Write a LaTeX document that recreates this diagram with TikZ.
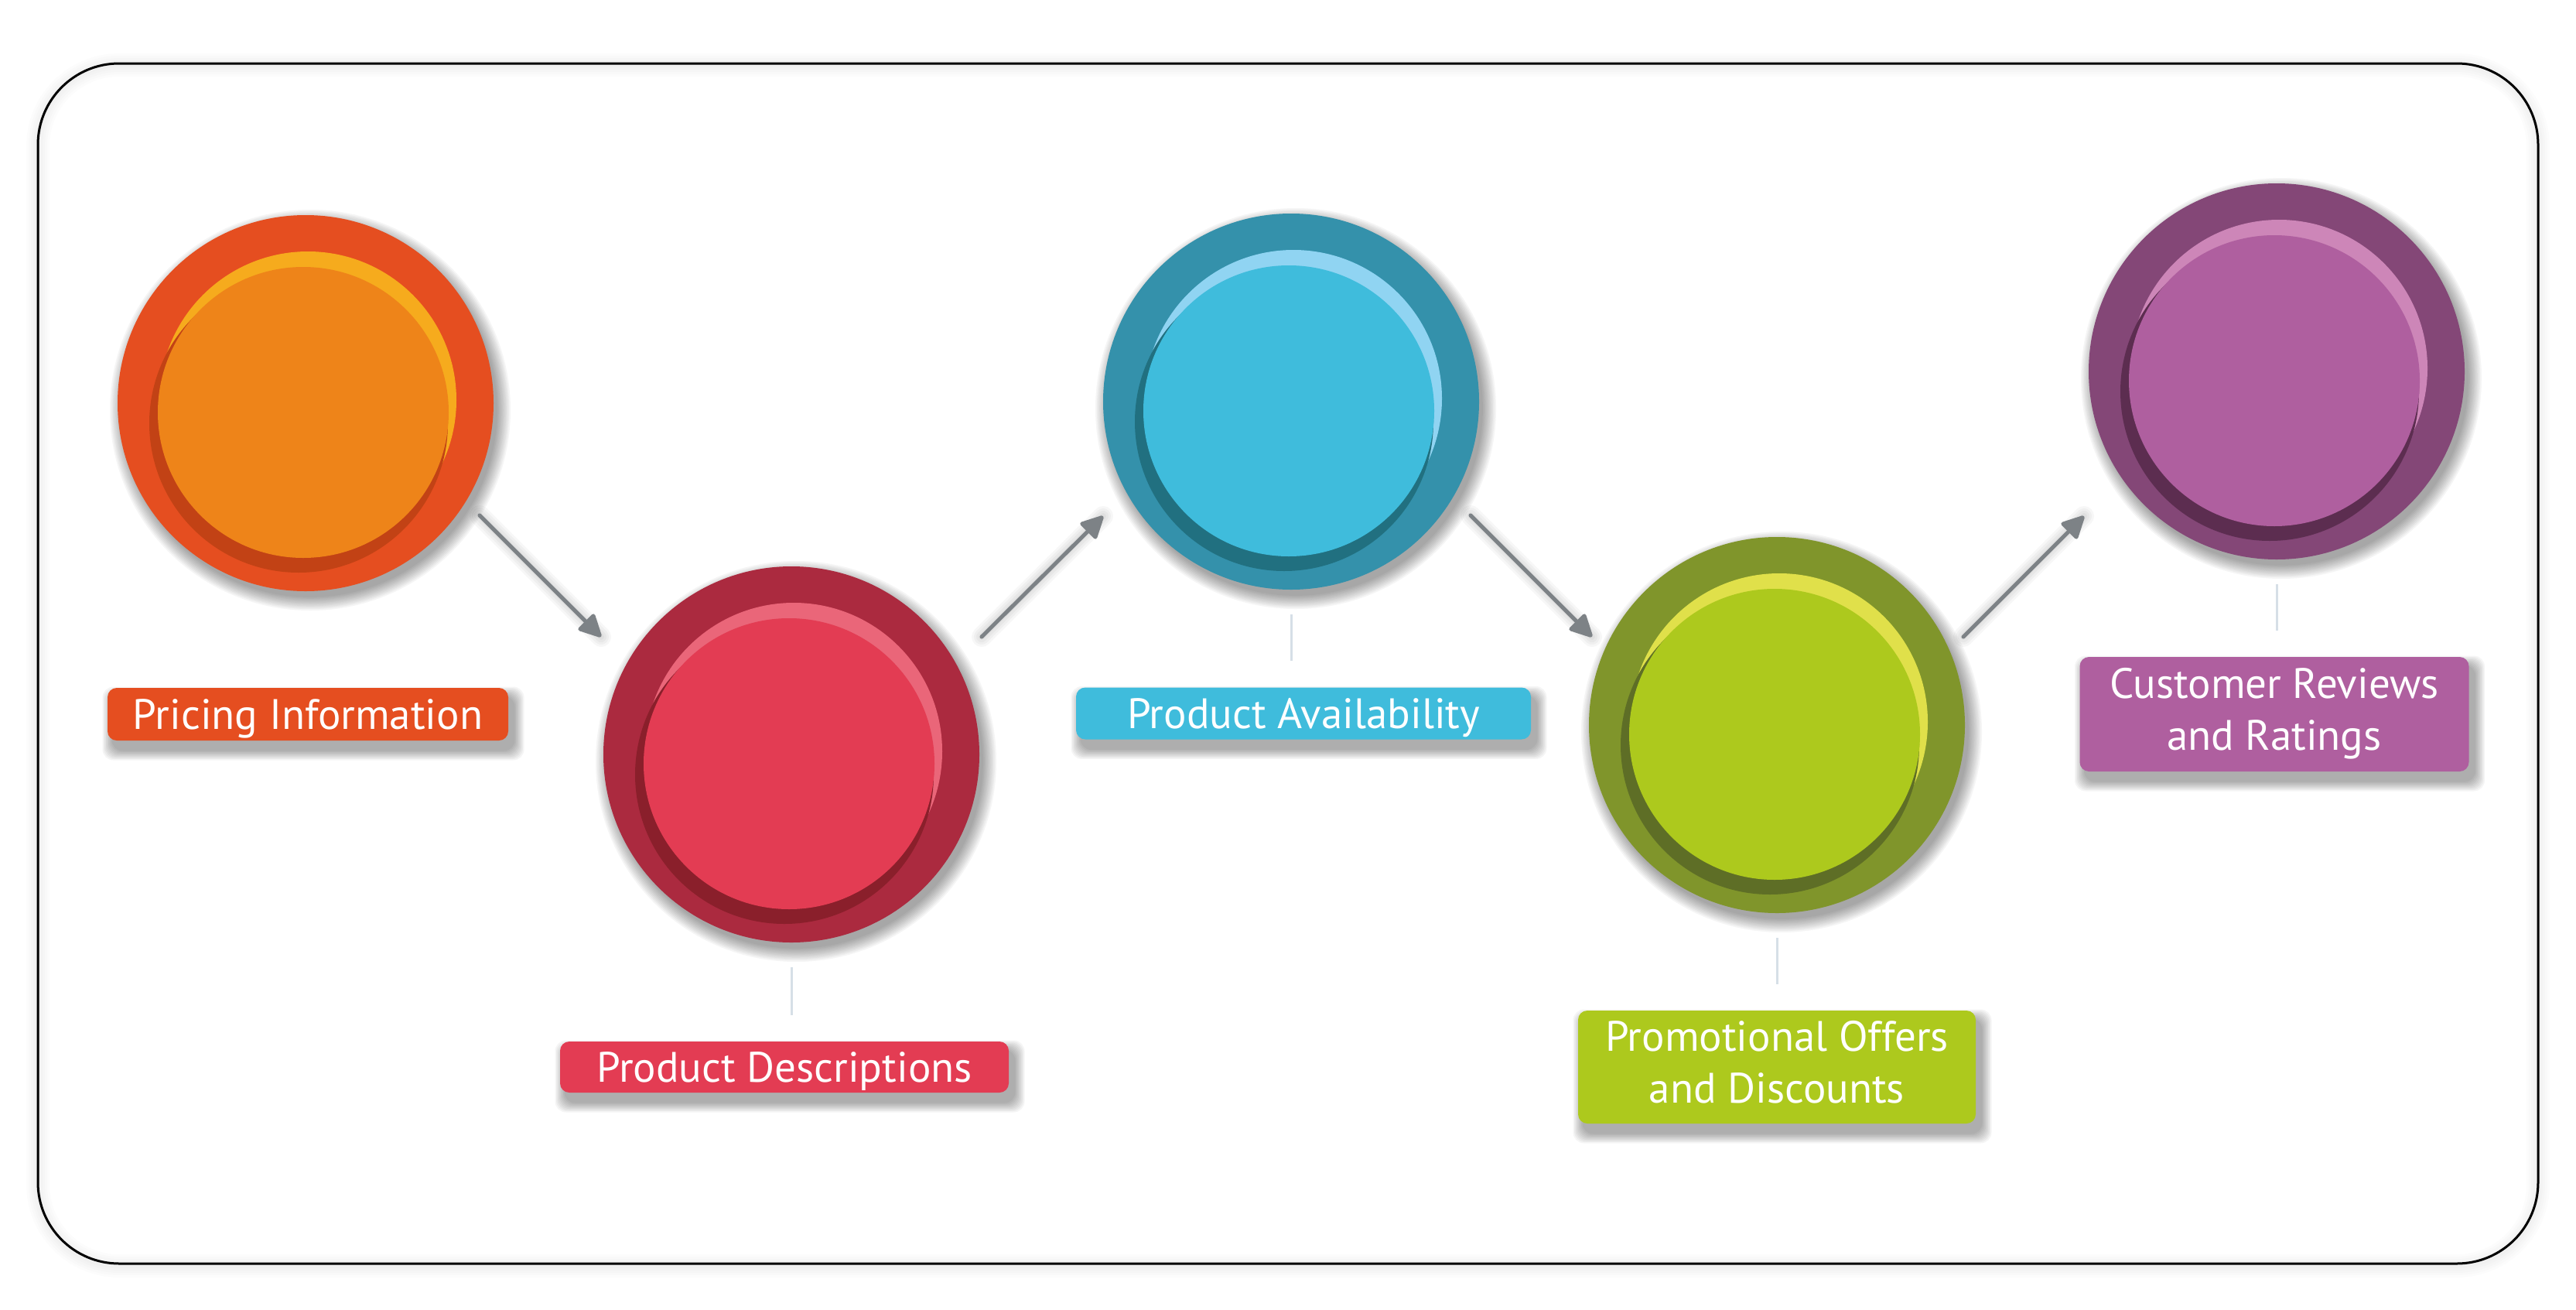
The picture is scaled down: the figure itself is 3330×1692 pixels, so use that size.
\documentclass[tikz,border=0pt]{standalone}
\usepackage{fontspec}
\setmainfont{PT Sans}
\usetikzlibrary{arrows.meta}
\definecolor{oA}{HTML}{E54E20}\definecolor{lA}{HTML}{F6AB1D}\definecolor{dA}{HTML}{C24215}\definecolor{fA}{HTML}{EE8419}
\definecolor{oB}{HTML}{AB2A3F}\definecolor{lB}{HTML}{EA6679}\definecolor{dB}{HTML}{8A1F2B}\definecolor{fB}{HTML}{E33C53}
\definecolor{oC}{HTML}{3491AB}\definecolor{lC}{HTML}{90D4F2}\definecolor{dC}{HTML}{217080}\definecolor{fC}{HTML}{3FBCDC}
\definecolor{oD}{HTML}{80952B}\definecolor{lD}{HTML}{E0E04A}\definecolor{dD}{HTML}{5E6E26}\definecolor{fD}{HTML}{ADC91D}
\definecolor{oE}{HTML}{844777}\definecolor{lE}{HTML}{CD86B8}\definecolor{dE}{HTML}{5C2D50}\definecolor{fE}{HTML}{AF5F9F}
\definecolor{arrgray}{HTML}{7D8286}
\definecolor{tickcol}{HTML}{D6DFE7}
\newcommand\mybubble[7]{%
  \foreach \i in {1,...,10}{\fill[black,opacity=0.04] (#2+6,#3+9) circle[radius={(240+1.9*\i)*1pt}];}
  \node[circle,fill=#4,minimum size=486pt,inner sep=0pt] (#1) at (#2,#3) {};
  \fill[#5] (#2+3,#3-4) circle[radius=192pt];
  \fill[#6] (#2-9,#3+26) circle[radius=193pt];
  \fill[#7] (#2-3,#3+12) circle[radius=188pt];
}
\newcommand\mylabel[8]{%
  \foreach \i in {1,...,9}{\fill[black,opacity=0.04,rounded corners=14pt] (#2-#4/2+7-\i*1.5,#3-#5/2+12-\i*1.5) rectangle (#2+#4/2+7+\i*1.5,#3+#5/2+12+\i*1.5);}
  \node[lbl,fill=#6,minimum width=#4pt,minimum height=#5pt] (#1) at (#2,#3)
    {\raisebox{-#8pt}[0pt][0pt]{\begin{tabular}{@{}c@{}}#7\end{tabular}}};
}
\begin{document}
\begin{tikzpicture}[x=1pt,y=-1pt,
  lbl/.style={rounded corners=12pt,text=white,inner sep=0pt,font=\fontsize{55}{67}\selectfont},
  arr/.style={line width=5pt,draw=arrgray,line cap=round,-{Triangle[length=32pt,width=31pt,round]}},
  arrshadow/.style={line cap=round,draw=black,opacity=0.03},
  tickline/.style={draw=tickcol,line width=3pt,shorten <=32pt,shorten >=34pt},
  frame/.style={rounded corners=105pt}]
\useasboundingbox (0,0) rectangle (3330,1692);
\fill[white] (0,0) rectangle (3330,1692);
% frame glow
\foreach \w in {6,12,18,24,30}{\draw[frame,black,opacity=0.012,line width=\w pt] (49,84) rectangle (3281,1636);}
\draw[frame,line width=3pt] (49,82) rectangle (3281,1633);

% bubbles
\mybubble{c1}{395}{521}{oA}{lA}{dA}{fA}
\mybubble{c2}{1023}{975}{oB}{lB}{dB}{fB}
\mybubble{c3}{1669}{519}{oC}{lC}{dC}{fC}
\mybubble{c4}{2297}{937}{oD}{lD}{dD}{fD}
\mybubble{c5}{2943}{480}{oE}{lE}{dE}{fE}

% labels
\mylabel{l1}{398}{923}{518}{68}{oA}{Pricing Information}{12}
\mylabel{l2}{1014}{1379}{580}{66}{fB}{Product Descriptions}{12}
\mylabel{l3}{1685}{922}{588}{67}{fC}{Product Availability}{12}
\mylabel{l4}{2297}{1379}{514}{146}{fD}{Promotional Offers\\and Discounts}{6}
\mylabel{l5}{2940}{923}{503}{148}{fE}{Customer Reviews\\and Ratings}{6}

% ticks
\draw[tickline] (c2.south) -- (c2.south |- l2.north);
\draw[tickline] (c3.south) -- (c3.south |- l3.north);
\draw[tickline] (c4.south) -- (c4.south |- l4.north);
\draw[tickline] (c5.south) -- (c5.south |- l5.north);

% arrow coordinates
\coordinate (a1s) at (620,666); \coordinate (a1e) at (777,823);
\coordinate (a2s) at (1269,823); \coordinate (a2e) at (1426,667);
\coordinate (a3s) at (1901,666); \coordinate (a3e) at (2058,823);
\coordinate (a4s) at (2538,823); \coordinate (a4e) at (2694,667);
\foreach \s/\e in {a1s/a1e,a2s/a2e,a3s/a3e,a4s/a4e}{
  \foreach \w in {8,14,20,26}{\draw[arrshadow,line width=\w pt,shift={(6,10)}] (\s) -- (\e);}
  \draw[arr] (\s) -- (\e);
}
\end{tikzpicture}
\end{document}
